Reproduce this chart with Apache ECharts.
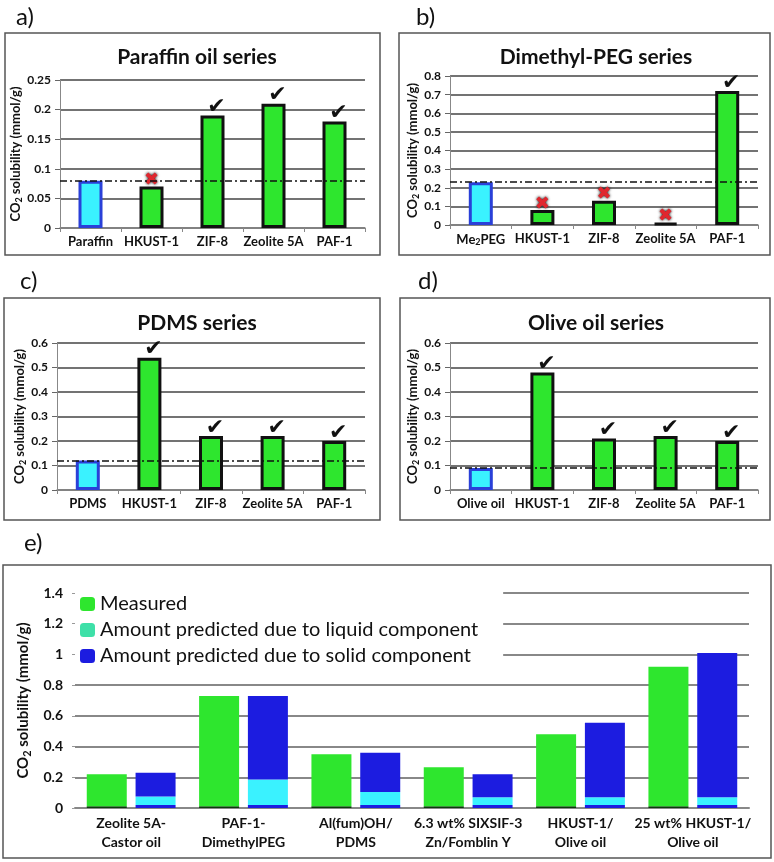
<!DOCTYPE html>
<html>
<head>
<meta charset="utf-8">
<script src="https://cdn.jsdelivr.net/npm/echarts@6/dist/echarts.min.js"></script>
<style>
  html, body { margin: 0; padding: 0; background: #fff; }
  #main { width: 774px; height: 862px; }
</style>
</head>
<body>
<div id="main"></div>
<script>
// panel a - paraffin oil
var catsA = ['Paraffin', 'HKUST-1', 'ZIF-8', 'Zeolite 5A', 'PAF-1'];
var valsA = [0.08, 0.07, 0.19, 0.21, 0.18];
var refA = 0.08;
var marksA = ['', 'x', 'v', 'v', 'v'];
var ticksA = [0, 0.25, 0.05];
// panel b - dimethyl PEG
var catsB = ['Me2PEG', 'HKUST-1', 'ZIF-8', 'Zeolite 5A', 'PAF-1'];
var valsB = [0.23, 0.08, 0.13, 0.01, 0.72];
var refB = 0.235;
var marksB = ['', 'x', 'x', 'x', 'v'];
var ticksB = [0, 0.8, 0.1];
// panel c - PDMS
var catsC = ['PDMS', 'HKUST-1', 'ZIF-8', 'Zeolite 5A', 'PAF-1'];
var valsC = [0.12, 0.54, 0.22, 0.22, 0.20];
var refC = 0.12;
var marksC = ['', 'v', 'v', 'v', 'v'];
var ticksC = [0, 0.6, 0.1];
// panel d - olive oil
var catsD = ['Olive oil', 'HKUST-1', 'ZIF-8', 'Zeolite 5A', 'PAF-1'];
var valsD = [0.09, 0.48, 0.21, 0.22, 0.20];
var refD = 0.09;
var marksD = ['', 'v', 'v', 'v', 'v'];
var ticksD = [0, 0.6, 0.1];
// panel e - measured vs predicted
var catsE = ['Zeolite 5A-\nCastor oil', 'PAF-1-\nDimethylPEG', 'Al(fum)OH/\nPDMS',
             '6.3 wt% SIXSIF-3\nZn/Fomblin Y', 'HKUST-1/\nOlive oil', '25 wt% HKUST-1/\nOlive oil'];
var measured = [0.22, 0.73, 0.35, 0.265, 0.48, 0.92];
var predLiquidTop = [0.075, 0.185, 0.105, 0.07, 0.07, 0.07];
var predTotal = [0.23, 0.73, 0.36, 0.22, 0.555, 1.01];
var measuredBase = [0.012, 0.012, 0.012, 0.012, 0.012, 0.012];
var predBase = [0.02, 0.02, 0.02, 0.02, 0.02, 0.02];
var ticksE = [0, 1.4, 0.2];

var GREEN = '#2ee62e', CYAN = '#3af2ff', BLUE = '#1c1ce0';
var FONT = 'Lato';

var myChart = echarts.init(document.getElementById('main'));

var grids = [
    {left: 60, top: 80, width: 305, height: 148},
    {left: 450, top: 76, width: 308, height: 149},
    {left: 57, top: 343, width: 308, height: 147},
    {left: 450, top: 343, width: 308, height: 147},
    {left: 75, top: 593, width: 674, height: 215}
];

var yName = '{n|CO}{s|2}{n| solubility (mmol/g)}';
function nameRich(size) {
    return {
        n: {fontSize: size, fontWeight: 'bold', fontFamily: FONT, color: '#111'},
        s: {fontSize: size - 4, fontWeight: 'bold', fontFamily: FONT, color: '#111', padding: [7, 0, 0, 0]}
    };
}

var xAxes = [], yAxes = [], series = [];

function addPanel(i, cats, vals, ref, marks, ticks) {
    xAxes.push({
        type: 'category', gridIndex: i, data: cats,
        axisLine: {lineStyle: {color: '#888', width: 1.5}},
        axisTick: {show: true, length: 4, lineStyle: {color: '#888'}},
        axisLabel: {
            margin: 7, fontSize: 13, fontWeight: 'bold', fontFamily: FONT, color: '#111',
            interval: 0,
            formatter: function (v) { return v === 'Me2PEG' ? '{n|Me}{s|2}{n|PEG}' : v; },
            rich: {
                n: {fontSize: 13, fontWeight: 'bold', fontFamily: FONT, color: '#111'},
                s: {fontSize: 9, fontWeight: 'bold', fontFamily: FONT, color: '#111', padding: [6, 0, 0, 0]}
            }
        }
    });
    yAxes.push({
        type: 'value', gridIndex: i, min: ticks[0], max: ticks[1], interval: ticks[2],
        name: yName, nameLocation: 'middle', nameGap: 25, nameRotate: 90,
        nameTextStyle: {rich: nameRich(13)},
        axisLine: {show: true, lineStyle: {color: '#888', width: 1}},
        axisTick: {show: true, length: 5, lineStyle: {color: '#666'}},
        axisLabel: {margin: 9, fontSize: 12, fontWeight: 'bold', fontFamily: FONT, color: '#111'},
        splitLine: {lineStyle: {color: '#444', width: 1.5}}
    });
    series.push({
        type: 'bar', xAxisIndex: i, yAxisIndex: i, barWidth: 24,
        itemStyle: {color: GREEN, borderColor: '#111', borderWidth: 3},
        data: vals.map(function (v, k) {
            return k === 0 ? {value: v, itemStyle: {color: CYAN, borderColor: '#2a40d8', borderWidth: 3}} : v;
        }),
        label: {
            show: true, position: 'top', distance: 0, offset: [0, 3],
            formatter: function (p) {
                var m = marks[p.dataIndex];
                if (m === 'v') return '{ok|\u2714}';
                if (m === 'x') return '{no|\u2716}';
                return '';
            },
            rich: {
                ok: {fontSize: 22, color: '#111', fontFamily: 'DejaVu Sans', padding: [0, 0, 0, 8]},
                no: {fontSize: 18, color: '#e0262e', fontFamily: 'DejaVu Sans',
                     textShadowColor: '#000', textShadowBlur: 3}
            }
        },
        markLine: {
            silent: true, symbol: 'none', label: {show: false},
            lineStyle: {color: '#111', type: [7, 3, 2, 3], width: 1.5},
            data: [{yAxis: ref}]
        }
    });
}

addPanel(0, catsA, valsA, refA, marksA, ticksA);
addPanel(1, catsB, valsB, refB, marksB, ticksB);
addPanel(2, catsC, valsC, refC, marksC, ticksC);
addPanel(3, catsD, valsD, refD, marksD, ticksD);

// panel e
xAxes.push({
    type: 'category', gridIndex: 4, data: catsE,
    axisLine: {lineStyle: {color: '#888', width: 2}},
    axisTick: {show: false},
    axisLabel: {margin: 6, fontSize: 14, fontWeight: 'bold', fontFamily: FONT, color: '#111',
                lineHeight: 19, interval: 0}
});
yAxes.push({
    type: 'value', gridIndex: 4, min: ticksE[0], max: ticksE[1], interval: ticksE[2],
    name: yName, nameLocation: 'middle', nameGap: 41, nameRotate: 90,
    nameTextStyle: {rich: nameRich(15)},
    axisLine: {show: false},
    axisTick: {show: true, length: 3, lineStyle: {color: '#999'}},
    axisLabel: {margin: 12, fontSize: 14, fontWeight: 'bold', fontFamily: FONT, color: '#111'},
    splitLine: {lineStyle: {color: '#888', width: 2}}
});

function minus(a, b) { return a.map(function (v, k) { return +(v - b[k]).toFixed(4); }); }

series.push(
    {type: 'bar', name: 'mbase', xAxisIndex: 4, yAxisIndex: 4, stack: 'm', barWidth: 40, barGap: '22%',
     itemStyle: {color: '#0a3a0a'}, data: measuredBase},
    {type: 'bar', name: 'Measured', xAxisIndex: 4, yAxisIndex: 4, stack: 'm', barWidth: 40,
     itemStyle: {color: GREEN}, data: minus(measured, measuredBase)},
    {type: 'bar', name: 'pbase', xAxisIndex: 4, yAxisIndex: 4, stack: 'p', barWidth: 40, barGap: '22%',
     itemStyle: {color: BLUE}, data: predBase},
    {type: 'bar', name: 'Amount predicted due to liquid component', xAxisIndex: 4, yAxisIndex: 4,
     stack: 'p', barWidth: 40, itemStyle: {color: CYAN}, data: minus(predLiquidTop, predBase)},
    {type: 'bar', name: 'Amount predicted due to solid component', xAxisIndex: 4, yAxisIndex: 4,
     stack: 'p', barWidth: 40, itemStyle: {color: BLUE}, data: minus(predTotal, predLiquidTop)}
);

var frameStyle = {fill: 'none', stroke: '#555', lineWidth: 1.5};
var titleStyle = {fontSize: 21, fontWeight: 'bold', fontFamily: FONT, fill: '#111',
                  textAlign: 'center', textVerticalAlign: 'middle'};
function panelTitle(x, y, t) {
    return {type: 'text', x: x, y: y, style: Object.assign({text: t}, titleStyle)};
}
function letter(x, y, t) {
    return {type: 'text', x: x, y: y,
            style: {text: t, fontSize: 24, fontFamily: FONT, fill: '#111', textVerticalAlign: 'middle'}};
}

var option = {
    animation: false,
    backgroundColor: '#fff',
    grid: grids,
    xAxis: xAxes,
    yAxis: yAxes,
    legend: {
        orient: 'vertical', left: 75, top: 589,
        backgroundColor: '#fff',
        padding: [5, 25, 5, 5],
        itemWidth: 15, itemHeight: 14, itemGap: 6,
        textStyle: {fontSize: 20, fontFamily: FONT, color: '#111'},
        data: [
            {name: 'Measured', itemStyle: {color: GREEN}},
            {name: 'Amount predicted due to liquid component', itemStyle: {color: '#3ee0a8'}},
            {name: 'Amount predicted due to solid component', itemStyle: {color: BLUE}}
        ]
    },
    graphic: [
        {type: 'rect', shape: {x: 5, y: 33, width: 375, height: 222}, style: frameStyle},
        {type: 'rect', shape: {x: 399, y: 33, width: 371, height: 222}, style: frameStyle},
        {type: 'rect', shape: {x: 4, y: 298, width: 376, height: 222}, style: frameStyle},
        {type: 'rect', shape: {x: 400, y: 298, width: 370, height: 222}, style: frameStyle},
        {type: 'rect', shape: {x: 3, y: 565, width: 768, height: 293}, style: frameStyle},
        panelTitle(197, 57, 'Paraffin oil series'),
        panelTitle(596, 57, 'Dimethyl-PEG series'),
        panelTitle(197, 323, 'PDMS series'),
        panelTitle(596, 323, 'Olive oil series'),
        letter(16, 17, 'a)'),
        letter(416, 17, 'b)'),
        letter(20, 281, 'c)'),
        letter(418, 281, 'd)'),
        letter(24, 543, 'e)')
    ],
    series: series
};
myChart.setOption(option);
</script>
</body>
</html>
